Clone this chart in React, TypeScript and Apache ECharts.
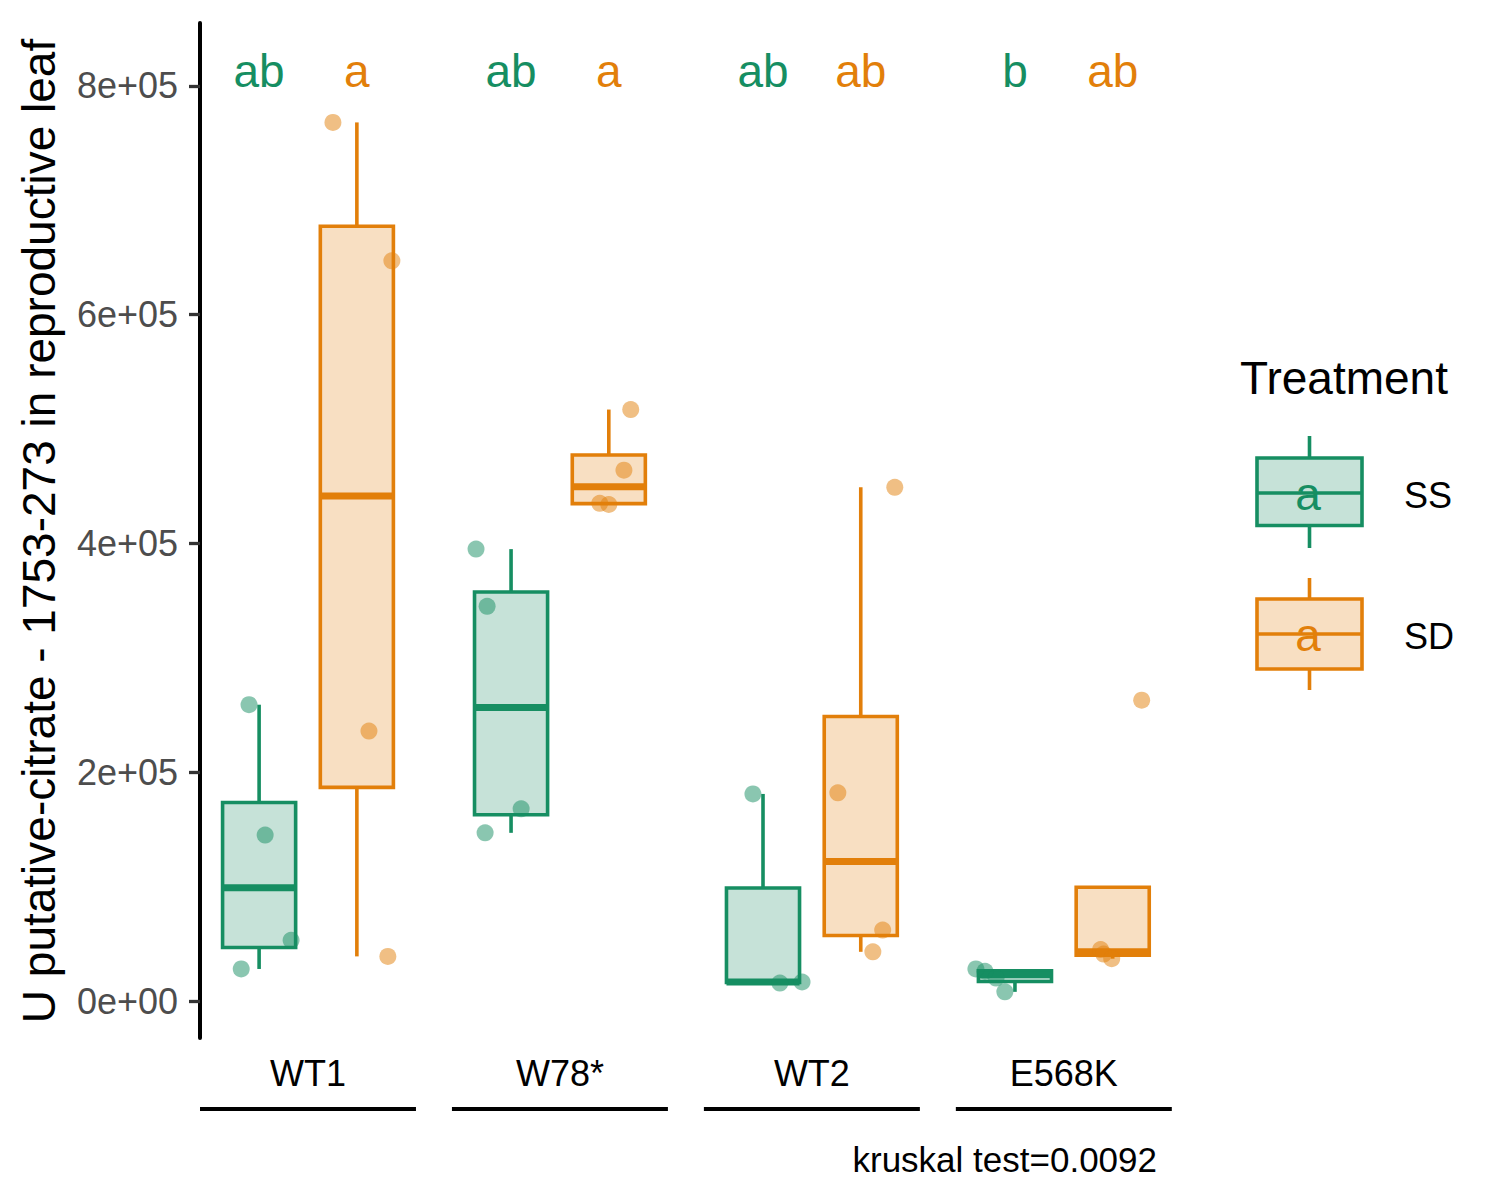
import React, { useEffect, useRef } from 'react';
import * as echarts from 'echarts';

// ---------------- data ----------------
const genotypes = ['WT1', 'W78*', 'WT2', 'E568K'];
const treatments = ['SS', 'SD'];

// raw observations per genotype (U putative-citrate)
const ssValues = [
  [259000, 145000, 53000, 28000],
  [395000, 345000, 168000, 147000],
  [181000, 15700, 16600],
  [28000, 26000, 20000, 8000],
];
const sdValues = [
  [768000, 647000, 236000, 39000],
  [517000, 464000, 435000, 434000],
  [182000, 62000, 43000, 449000],
  [45000, 41000, 37000, 263000],
];
// horizontal jitter (category units) of each observation
const ssJitter = [
  [-0.04, 0.024, 0.127, -0.071],
  [-0.139, -0.095, 0.04, -0.103],
  [-0.04, 0.067, 0.155],
  [-0.155, -0.119, -0.075, -0.04],
];
const sdJitter = [
  [-0.095, 0.139, 0.048, 0.123],
  [0.087, 0.06, -0.036, 0.0],
  [-0.091, 0.087, 0.048, 0.135],
  [-0.048, -0.036, -0.004, 0.115],
];
const ssLetters = ['ab', 'ab', 'ab', 'b'];
const sdLetters = ['a', 'a', 'ab', 'ab'];
const letterLevel = 813000;
const yTicks = [0, 200000, 400000, 600000, 800000];
const captionText = 'kruskal test=0.0092';
const yTitle = 'U putative-citrate - 1753-273 in reproductive leaf';
const legendTitle = 'Treatment';

// ---------------- style ----------------
const FONT = "'Liberation Sans', Arial, Helvetica, sans-serif";
const GREEN = '#168E62';
const GREEN_FILL = '#C6E2D8';
const ORANGE = '#E27F0A';
const ORANGE_FILL = '#F8DFC2';
const DODGE = 0.194;
const HALF_BOX = 0.145;
const X_MIN = 0.5714;
const X_MAX = 4.6;
const Y_MIN = -32340;
const Y_MAX = 854900;

function q7(s: number[], p: number) {
  const h = (s.length - 1) * p;
  const lo = Math.floor(h);
  const hi = Math.ceil(h);
  return s[lo] + (h - lo) * (s[hi] - s[lo]);
}
function boxStats(vals: number[]) {
  const s = [...vals].sort((a, b) => a - b);
  const q1 = q7(s, 0.25);
  const md = q7(s, 0.5);
  const q3 = q7(s, 0.75);
  const iqr = q3 - q1;
  const inl = s.filter((v) => v >= q1 - 1.5 * iqr && v <= q3 + 1.5 * iqr);
  return [Math.min(q1, ...inl), q1, md, q3, Math.max(q3, ...inl)];
}
function sci(v: number) {
  if (v === 0) return '0e+00';
  const e = Math.floor(Math.log10(Math.abs(v)) + 1e-9);
  const m = Math.round(v / Math.pow(10, e));
  return `${m}e${e < 0 ? '-' : '+'}${String(Math.abs(e)).padStart(2, '0')}`;
}

function boxSeries(name: string, values: number[][], offset: number, color: string, fill: string) {
  return {
    type: 'custom',
    name,
    clip: false,
    encode: { x: 0, y: [1, 2, 3, 4, 5] },
    data: values.map((v, i) => [i + 1 + offset, ...boxStats(v)]),
    renderItem: (params: any, api: any) => {
      const x = api.value(0);
      const lo = api.value(1);
      const q1 = api.value(2);
      const md = api.value(3);
      const q3 = api.value(4);
      const hi = api.value(5);
      const c = api.coord([x, md]);
      const pTL = api.coord([x - HALF_BOX, q3]);
      const pBR = api.coord([x + HALF_BOX, q1]);
      const yLo = api.coord([x, lo])[1];
      const yHi = api.coord([x, hi])[1];
      return {
        type: 'group',
        children: [
          { type: 'line', shape: { x1: c[0], y1: pTL[1], x2: c[0], y2: yHi }, style: { stroke: color, lineWidth: 3.6 } },
          { type: 'line', shape: { x1: c[0], y1: pBR[1], x2: c[0], y2: yLo }, style: { stroke: color, lineWidth: 3.6 } },
          {
            type: 'rect',
            shape: { x: pTL[0], y: pTL[1], width: pBR[0] - pTL[0], height: pBR[1] - pTL[1] },
            style: { fill, stroke: color, lineWidth: 3.6 },
          },
          { type: 'line', shape: { x1: pTL[0], y1: c[1], x2: pBR[0], y2: c[1] }, style: { stroke: color, lineWidth: 7 } },
        ],
      };
    },
  };
}

function pointSeries(name: string, values: number[][], jit: number[][], offset: number, color: string) {
  const data: number[][] = [];
  values.forEach((arr, i) => arr.forEach((v, j) => data.push([i + 1 + offset + jit[i][j], v])));
  return {
    type: 'scatter',
    name,
    data,
    symbol: 'circle',
    symbolSize: 17,
    itemStyle: { color, opacity: 0.5 },
    z: 5,
  };
}

function letterSeries(name: string, letters: string[], offset: number, color: string) {
  return {
    type: 'custom',
    name,
    clip: false,
    encode: { x: 0, y: 1 },
    data: letters.map((l, i) => [i + 1 + offset, letterLevel]),
    renderItem: (params: any, api: any) => {
      const p = api.coord([api.value(0), api.value(1)]);
      return {
        type: 'text',
        x: p[0],
        y: p[1],
        style: {
          text: letters[params.dataIndex],
          fill: color,
          font: `46px ${FONT}`,
          align: 'center',
          verticalAlign: 'middle',
          textAlign: 'center',
          textVerticalAlign: 'middle',
        },
      };
    },
  };
}

function txt(text: string, x: number, y: number, size: number, fill: string, align = 'left', extra: any = {}) {
  return {
    type: 'text',
    x,
    y,
    ...extra,
    style: {
      text,
      fill,
      font: `${size}px ${FONT}`,
      align,
      verticalAlign: 'middle',
      textAlign: align,
      textVerticalAlign: 'middle',
    },
  };
}

function legendKey(cy: number, color: string, fill: string, top: number, bottom: number, wTop: number, wBot: number) {
  return [
    { type: 'line', shape: { x1: 1309.5, y1: wTop, x2: 1309.5, y2: wBot }, style: { stroke: color, lineWidth: 3.6 } },
    { type: 'rect', shape: { x: 1257, y: top, width: 105, height: bottom - top }, style: { fill, stroke: color, lineWidth: 3.6 } },
    { type: 'line', shape: { x1: 1257, y1: cy, x2: 1362, y2: cy }, style: { stroke: color, lineWidth: 3.6 } },
    txt('a', 1308, cy + 1, 46, color, 'center'),
  ];
}

export default function App() {
  const ref = useRef<HTMLDivElement>(null);
  useEffect(() => {
    document.body.style.margin = '0';
    if (!ref.current) return;
    const chart = echarts.init(ref.current, undefined, { renderer: 'svg' });
    const option: any = {
      animation: false,
      backgroundColor: '#fff',
      textStyle: { fontFamily: FONT },
      grid: { left: 200, right: 285, top: 23, bottom: 162, containLabel: false },
      xAxis: {
        type: 'value',
        min: X_MIN,
        max: X_MAX,
        axisLine: { show: false },
        axisTick: { show: false },
        splitLine: { show: false },
        axisLabel: {
          customValues: [1, 2, 3, 4],
          formatter: (v: number) => genotypes[Math.round(v) - 1] ?? '',
          fontSize: 36,
          fontFamily: FONT,
          color: '#000',
          margin: 17,
        },
      },
      yAxis: {
        type: 'value',
        min: Y_MIN,
        max: Y_MAX,
        axisLine: { show: true, lineStyle: { color: '#000', width: 4 } },
        axisTick: { show: true, length: 11, customValues: yTicks, lineStyle: { color: '#333', width: 3.3 } },
        axisLabel: {
          customValues: yTicks,
          formatter: (v: number) => sci(v),
          fontSize: 36,
          fontFamily: FONT,
          color: '#4D4D4D',
          margin: 22,
        },
        splitLine: { show: false },
      },
      series: [
        boxSeries('SS box', ssValues, -DODGE, GREEN, GREEN_FILL),
        boxSeries('SD box', sdValues, DODGE, ORANGE, ORANGE_FILL),
        pointSeries(treatments[0], ssValues, ssJitter, -DODGE, GREEN),
        pointSeries(treatments[1], sdValues, sdJitter, DODGE, ORANGE),
        letterSeries('SS letters', ssLetters, -DODGE, GREEN),
        letterSeries('SD letters', sdLetters, DODGE, ORANGE),
        {
          type: 'custom',
          name: 'group lines',
          clip: false,
          encode: { x: 0 },
          data: genotypes.map((g, i) => [i + 1]),
          renderItem: (params: any, api: any) => {
            const g = api.value(0);
            const a = api.coord([g - 0.4286, Y_MIN]);
            const b = api.coord([g + 0.4286, Y_MIN]);
            return {
              type: 'line',
              shape: { x1: a[0], y1: a[1] + 71, x2: b[0], y2: b[1] + 71 },
              style: { stroke: '#000', lineWidth: 4 },
            };
          },
        },
      ],
      graphic: [
        txt(yTitle, 39, 531, 46, '#000', 'center', { rotation: Math.PI / 2 }),
        txt(captionText, 1157, 1159, 35, '#000', 'right'),
        txt(legendTitle, 1240, 378, 46, '#000', 'left'),
        ...legendKey(493, GREEN, GREEN_FILL, 458, 525.5, 436, 548),
        ...legendKey(634, ORANGE, ORANGE_FILL, 599, 669, 578, 690),
        txt(treatments[0], 1404, 495, 36, '#000', 'left'),
        txt(treatments[1], 1404, 636, 36, '#000', 'left'),
      ],
    };
    chart.setOption(option);
    return () => chart.dispose();
  }, []);
  return <div ref={ref} style={{ width: 1500, height: 1200 }} />;
}
